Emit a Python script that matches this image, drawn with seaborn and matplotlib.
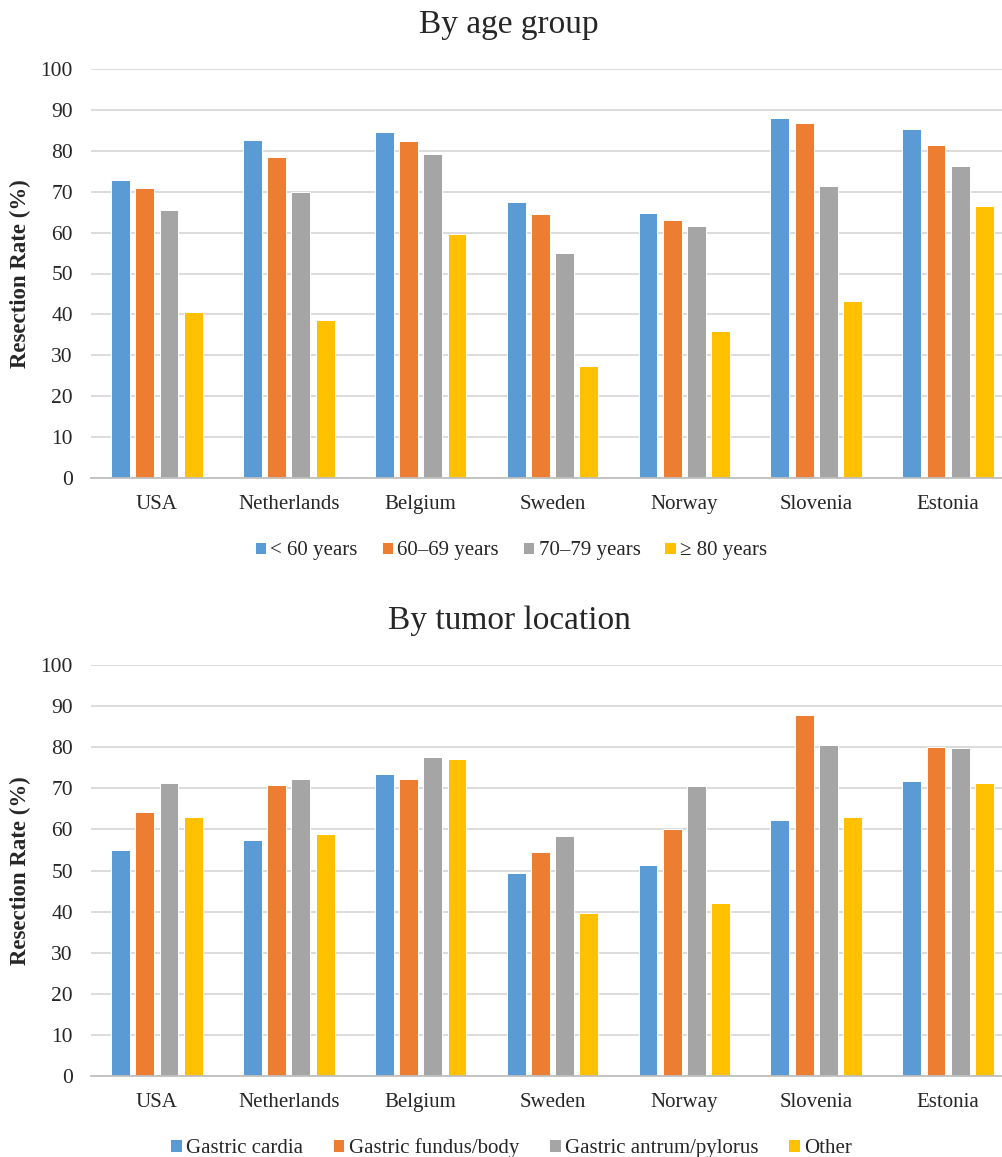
import matplotlib
matplotlib.use("Agg")
import matplotlib.pyplot as plt
import seaborn as sns
import pandas as pd

countries = ["USA", "Netherlands", "Belgium", "Sweden", "Norway", "Slovenia", "Estonia"]

age_groups = ["< 60 years", "60\u201369 years", "70\u201379 years", "\u2265 80 years"]
age_lt60 = [72.9, 82.6, 84.6, 67.4, 64.9, 88.1, 85.3]
age_60_69 = [71.0, 78.6, 82.4, 64.5, 63.0, 86.7, 81.5]
age_70_79 = [65.6, 69.9, 79.2, 55.1, 61.5, 71.4, 76.4]
age_ge80 = [40.6, 38.6, 59.6, 27.4, 36.0, 43.2, 66.5]

locations = ["Gastric cardia", "Gastric fundus/body", "Gastric antrum/pylorus", "Other"]
loc_cardia = [55.1, 57.4, 73.5, 49.3, 51.4, 62.2, 71.8]
loc_fundus = [64.2, 70.9, 72.3, 54.5, 60.1, 87.9, 80.1]
loc_antrum = [71.3, 72.3, 77.7, 58.4, 70.6, 80.6, 79.8]
loc_other = [63.1, 58.9, 77.2, 39.7, 42.2, 63.1, 71.2]

colors = ["#5B9BD5", "#ED7D31", "#A5A5A5", "#FFC000"]


def long_df(series_names, series_values):
    rows = []
    for name, vals in zip(series_names, series_values):
        for c, v in zip(countries, vals):
            rows.append({"country": c, "group": name, "value": v})
    return pd.DataFrame(rows)


sns.set_theme(style="white")
plt.rcParams["font.family"] = ["Liberation Serif", "DejaVu Serif"]

W, H = 1003, 1157
fig = plt.figure(figsize=(W / 100, H / 100), dpi=100)

ax_left = 91 / W
ax_width = 923 / W


def make_panel(top_px, bottom_px, df, hue_order, title, title_y_px, legend_y_px, colspace):
    ax = fig.add_axes([ax_left, 1 - bottom_px / H, ax_width, (bottom_px - top_px) / H])
    sns.barplot(data=df, x="country", y="value", hue="group", hue_order=hue_order,
                order=countries, palette=colors, saturation=1, width=0.735, gap=0.22,
                edgecolor="white", linewidth=0.7, ax=ax, errorbar=None)
    ax.set_ylim(0, 100)
    ax.set_yticks(range(0, 101, 10))
    ax.yaxis.grid(True, color="#D9D9D9", linewidth=1.3)
    ax.set_axisbelow(True)
    for s in ["top", "right", "left"]:
        ax.spines[s].set_visible(False)
    ax.spines["bottom"].set_color("#BFBFBF")
    ax.spines["bottom"].set_linewidth(1.3)
    ax.tick_params(axis="y", length=0, pad=13, labelsize=15.5, labelcolor="#262626")
    ax.tick_params(axis="x", length=0, pad=12, labelsize=15, labelcolor="#262626")
    ax.set_xlabel("")
    ax.set_ylabel("Resection Rate (%)", fontsize=16.5, fontweight="bold")
    ax.yaxis.set_label_coords((31 - 91) / 923, 0.5)
    handles, labels = ax.get_legend_handles_labels()
    ax.get_legend().remove()
    fig.text(509 / W, 1 - title_y_px / H, title, ha="center", va="center",
             fontsize=24, color="#262626")
    fig.legend(handles, labels, loc="center", bbox_to_anchor=(511 / W, 1 - legend_y_px / H),
               ncol=4, frameon=False, fontsize=15, handlelength=0.55, handleheight=0.55,
               handletextpad=0.2, columnspacing=colspace)
    return ax


df_age = long_df(age_groups, [age_lt60, age_60_69, age_70_79, age_ge80])
df_loc = long_df(locations, [loc_cardia, loc_fundus, loc_antrum, loc_other])

make_panel(69, 478, df_age, age_groups, "By age group", 25, 551, 1.15)
make_panel(665, 1076, df_loc, locations, "By tumor location", 621, 1148, 1.45)

fig.savefig("out.png", dpi=100)
